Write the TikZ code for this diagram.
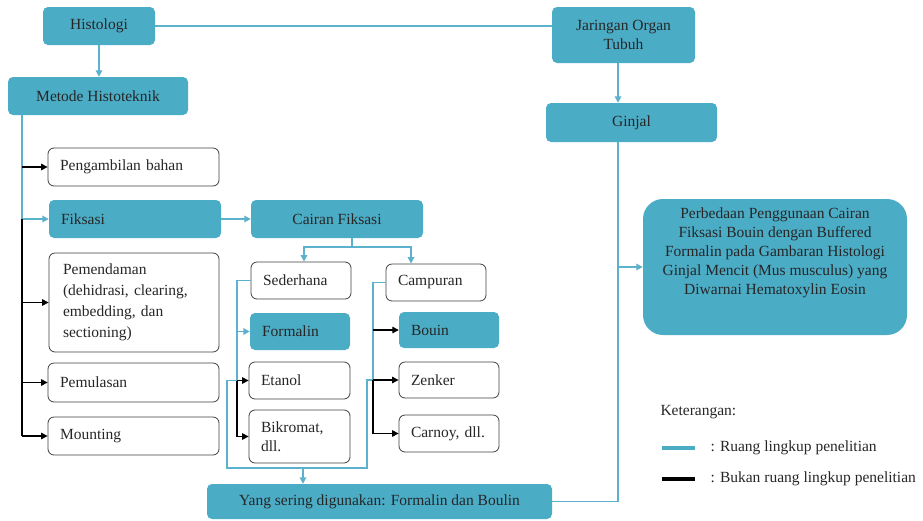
\documentclass[tikz,border=0pt]{standalone}
\usepackage{fontspec}
\setmainfont{Liberation Serif}
\usetikzlibrary{arrows.meta}

\definecolor{tealfill}{RGB}{75,172,198}
\definecolor{tealline}{RGB}{92,178,204}

\tikzset{
    tealbox/.style={fill=tealfill, rounded corners=5pt, inner sep=0pt},
    whitebox/.style={draw=black!75, line width=0.8pt, fill=white, rounded corners=6pt, inner sep=0pt},
    leftbox/.style={inner xsep=12pt, align=left},
    inscope/.style={draw=tealline, line width=1.8pt},
    outscope/.style={draw=black, line width=1.3pt},
    tip/.style={-{Triangle[length=6.5pt,width=6.5pt]}},
}

\begin{document}
\begin{tikzpicture}[x=1pt, y=-1pt, every node/.style={font=\fontsize{15.5}{19}\selectfont, text=black!85}]
    \useasboundingbox (0,0) rectangle (923,520);

    % Top row and right branch
    \node[tealbox, minimum width=112, minimum height=38] (histologi) at (99,26) {Histologi};
    \node[tealbox, minimum width=180, minimum height=38] (metode) at (98,96) {Metode Histoteknik};
    \node[tealbox, minimum width=143, minimum height=56, align=center] (jaringan) at (623.5,35) {Jaringan Organ\\Tubuh};
    \node[tealbox, minimum width=171, minimum height=39] (ginjal) at (631.5,122.5) {Ginjal};
    \node[tealbox, rounded corners=20pt, minimum width=264, minimum height=136, align=center, text depth=32pt] (perbedaan) at (775,267)
        {Perbedaan Penggunaan Cairan\\Fiksasi Bouin dengan Buffered\\Formalin pada Gambaran Histologi\\Ginjal Mencit (Mus musculus) yang\\Diwarnai Hematoxylin Eosin};

    % Left column: histotechnique steps
    \node[whitebox, leftbox, text width=147, minimum height=38] (ambil) at (133.5,167) {Pengambilan bahan};
    \node[tealbox, leftbox, text width=148, minimum height=38] (fiksasi) at (135,219) {Fiksasi};
    \node[whitebox, leftbox, inner xsep=14pt, text width=142, minimum height=99,
          font=\fontsize{15.5}{21}\selectfont] (pendam) at (134,302.5)
        {Pemendaman\\(dehidrasi, clearing,\\embedding, dan\\sectioning)};
    \node[whitebox, leftbox, text width=147, minimum height=39] (pulas) at (133.5,382.5) {Pemulasan};
    \node[whitebox, leftbox, text width=147, minimum height=38] (mount) at (133.5,436) {Mounting};

    % Fixation fluids
    \node[tealbox, minimum width=172, minimum height=38] (cairan) at (337,219) {Cairan Fiksasi};
    \node[whitebox, leftbox, text width=76, minimum height=37] (sederhana) at (301,280.5) {Sederhana};
    \node[tealbox, leftbox, text width=76, minimum height=37] (formalin) at (300,331.5) {Formalin};
    \node[whitebox, leftbox, text width=77, minimum height=37] (etanol) at (299.5,380.5) {Etanol};
    \node[whitebox, leftbox, text width=77, minimum height=53] (bikromat) at (299.5,436.5) {Bikromat,\\dll.};
    \node[whitebox, leftbox, text width=76, minimum height=37] (campuran) at (436,282.5) {Campuran};
    \node[tealbox, leftbox, text width=76, minimum height=36] (bouin) at (449,330) {Bouin};
    \node[whitebox, leftbox, text width=76, minimum height=36] (zenker) at (449,380) {Zenker};
    \node[whitebox, leftbox, text width=76, minimum height=37] (carnoy) at (449,433.5) {Carnoy, dll.};
    \node[tealbox, minimum width=345, minimum height=35] (sering) at (379.5,501.5) {Yang sering digunakan: Formalin dan Boulin};

    % Right spine
    \coordinate (spine) at (618,0);
    \draw[inscope] (histologi.east) -- (histologi.east -| jaringan.west);
    \draw[inscope, tip] (histologi.south) -- (histologi.south |- metode.north);
    \draw[inscope, tip] (jaringan.south -| spine) -- (ginjal.north -| spine);
    \draw[inscope] (ginjal.south -| spine) -- (spine |- sering.east) -- (sering.east);
    \draw[inscope, tip] (spine |- perbedaan.west) -- (perbedaan.west);

    % Left rail
    \coordinate (rail) at (22,0);
    \draw[inscope] (metode.south -| rail) -- (rail |- fiksasi.west);
    \draw[inscope, tip] (rail |- fiksasi.west) -- (fiksasi.west);
    \draw[outscope, tip] (rail |- ambil.west) -- (ambil.west);
    \draw[outscope] (rail |- fiksasi.west) -- (rail |- mount.west);
    \foreach \n in {pendam, pulas, mount}
        \draw[outscope, tip] (rail |- \n.west) -- (\n.west);

    % Split into simple and mixed fluids
    \coordinate (split) at (352,247);
    \coordinate (sedx) at (304,0);
    \coordinate (campx) at (411,0);
    \draw[inscope, tip] (fiksasi.east) -- (cairan.west);
    \draw[inscope] (cairan.south -| split) -- (split);
    \draw[inscope, tip] (split) -| (sedx |- sederhana.north);
    \draw[inscope, tip] (split) -| (campx |- campuran.north);

    % Loop down to the common fluids
    \coordinate (li) at (237,0);
    \coordinate (lo) at (227,0);
    \coordinate (ri) at (373,0);
    \coordinate (ro) at (367,0);
    \coordinate (loopbot) at (0,468);
    \coordinate (dropx) at (303,0);
    \draw[inscope] (sederhana.west) -- (li |- sederhana.west) -- (li |- etanol.west) -- (lo |- etanol.west)
        -- (lo |- loopbot) -- (ro |- loopbot) -- (ro |- zenker.west) -- (ri |- zenker.west)
        -- (ri |- campuran.west) -- (campuran.west);
    \draw[inscope, tip] (li |- formalin.west) -- (formalin.west);
    \draw[outscope, tip] (ri |- bouin.west) -- (bouin.west);
    \draw[outscope, tip] (li |- etanol.west) -- (etanol.west);
    \draw[outscope, tip] (li |- etanol.west) -- (li |- bikromat.west) -- (bikromat.west);
    \draw[outscope, tip] (ri |- zenker.west) -- (zenker.west);
    \draw[outscope, tip] (ri |- zenker.west) -- (ri |- carnoy.west) -- (carnoy.west);
    \draw[inscope, tip] (dropx |- loopbot) -- (dropx |- sering.north);

    % Legend
    \node[anchor=west] (ket) at (657,412) {Keterangan:};
    \node[anchor=west] (ruang) at (707,448) {: Ruang lingkup penelitian};
    \node[anchor=west] (bukan) at (707,479) {: Bukan ruang lingkup penelitian};
    \draw[draw=tealfill, line width=4pt] (662,448) -- (695,448);
    \draw[draw=black, line width=4pt] (662,479) -- (695,479);
\end{tikzpicture}
\end{document}
